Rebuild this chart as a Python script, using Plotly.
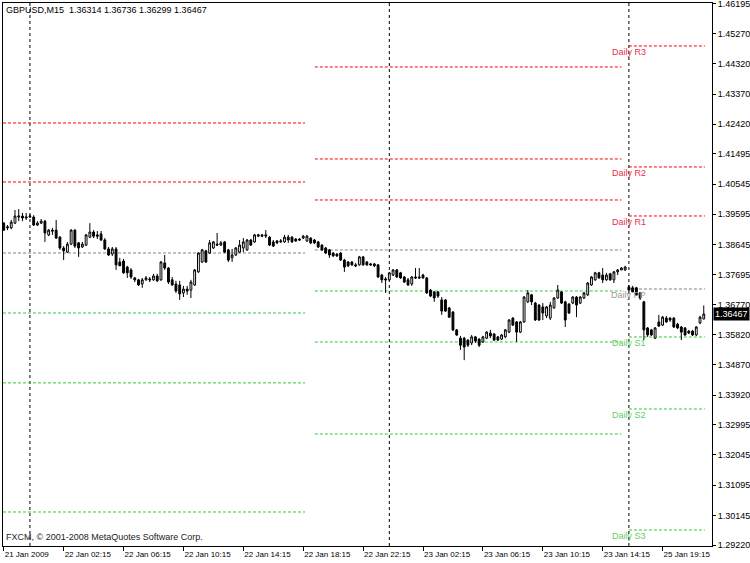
import plotly.graph_objects as go

# ---- data (GBPUSD M15) ----
open_ = [1.3932,1.3917,1.3917,1.3932,1.3951,1.3954,1.3948,1.3951,1.3951,1.3926,
1.3932,1.3938,1.3895,1.3910,1.3910,1.3888,1.3854,1.3841,1.3866,1.3910,
1.3870,1.3857,1.3863,1.3888,1.3904,1.3895,1.3898,1.3879,1.3851,1.3835,
1.3851,1.3810,1.3813,1.3794,1.3785,1.3760,1.3754,1.3741,1.3754,1.3757,
1.3754,1.3766,1.3754,1.3807,1.3791,1.3754,1.3741,1.3738,1.3713,1.3725,
1.3722,1.3738,1.3779,1.3810,1.3845,1.3838,1.3854,1.3866,1.3863,1.3873,
1.3848,1.3823,1.3832,1.3841,1.3854,1.3848,1.3879,1.3873,1.3891,1.3895,
1.3891,1.3888,1.3873,1.3876,1.3873,1.3873,1.3888,1.3888,1.3882,1.3882,
1.3885,1.3876,1.3885,1.3879,1.3873,1.3863,1.3854,1.3848,1.3838,1.3835,
1.3838,1.3816,1.3810,1.3810,1.3801,1.3801,1.3826,1.3810,1.3804,1.3804,
1.3801,1.3769,1.3757,1.3754,1.3769,1.3785,1.3776,1.3763,1.3754,1.3741,
1.3763,1.3763,1.3769,1.3760,1.3722,1.3716,1.3716,1.3691,1.3691,1.3666,
1.3653,1.3597,1.3571,1.3571,1.3565,1.3556,1.3575,1.3568,1.3559,1.3571,
1.3587,1.3584,1.3575,1.3568,1.3575,1.3590,1.3634,1.3622,1.3590,1.3622,
1.3685,1.3707,1.3681,1.3675,1.3669,1.3641,1.3634,1.3666,1.3697,1.3716,
1.3685,1.3678,1.3681,1.3700,1.3681,1.3697,1.3707,1.3738,1.3754,1.3776,
1.3769,1.3754,1.3773,1.3754,1.3779,1.3785,1.3785,1.3732,1.3729,1.3729,
1.3713,1.3685,1.3603,1.3597,1.3571,1.3622,1.3612,1.3634,1.3634,1.3634,
1.3615,1.3606,1.3603,1.3593,1.3593,1.3581,1.3619,1.36314]
high = [1.3935,1.3926,1.3942,1.3973,1.3976,1.3964,1.3964,1.3960,1.3957,1.3938,
1.3945,1.3942,1.3913,1.3917,1.3942,1.3891,1.3860,1.3873,1.3913,1.3913,
1.3873,1.3873,1.3898,1.3932,1.3910,1.3907,1.3907,1.3885,1.3857,1.3857,
1.3857,1.3823,1.3820,1.3798,1.3791,1.3763,1.3757,1.3760,1.3766,1.3763,
1.3773,1.3773,1.3813,1.3832,1.3794,1.3763,1.3751,1.3751,1.3735,1.3735,
1.3754,1.3788,1.3841,1.3851,1.3848,1.3879,1.3876,1.3901,1.3876,1.3876,
1.3851,1.3851,1.3857,1.3879,1.3885,1.3882,1.3882,1.3898,1.3898,1.3898,
1.3910,1.3891,1.3879,1.3879,1.3882,1.3895,1.3895,1.3891,1.3885,1.3885,
1.3895,1.3895,1.3888,1.3882,1.3876,1.3866,1.3857,1.3851,1.3841,1.3838,
1.3841,1.3820,1.3813,1.3813,1.3807,1.3829,1.3829,1.3813,1.3807,1.3807,
1.3804,1.3773,1.3763,1.3779,1.3788,1.3788,1.3779,1.3766,1.3760,1.3766,
1.3791,1.3791,1.3773,1.3763,1.3725,1.3719,1.3719,1.3700,1.3694,1.3669,
1.3656,1.3600,1.3578,1.3575,1.3568,1.3581,1.3578,1.3571,1.3578,1.3593,
1.3597,1.3587,1.3578,1.3584,1.3600,1.3631,1.3637,1.3625,1.3625,1.3703,
1.3722,1.3710,1.3685,1.3678,1.3681,1.3672,1.3685,1.3700,1.3738,1.3719,
1.3688,1.3681,1.3703,1.3703,1.3703,1.3716,1.3747,1.3766,1.3779,1.3779,
1.3791,1.3776,1.3776,1.3782,1.3788,1.3794,1.3798,1.3738,1.3735,1.3732,
1.3716,1.3688,1.3606,1.3600,1.3606,1.3644,1.3641,1.3641,1.3637,1.3637,
1.3619,1.3609,1.3606,1.3597,1.3597,1.3609,1.3641,1.36736]
low = [1.3907,1.3910,1.3913,1.3929,1.3938,1.3938,1.3942,1.3948,1.3923,1.3923,
1.3929,1.3873,1.3891,1.3895,1.3882,1.3848,1.3816,1.3838,1.3863,1.3854,
1.3826,1.3854,1.3860,1.3885,1.3885,1.3882,1.3876,1.3848,1.3829,1.3829,
1.3785,1.3798,1.3773,1.3760,1.3757,1.3747,1.3735,1.3729,1.3751,1.3747,
1.3751,1.3747,1.3751,1.3785,1.3741,1.3735,1.3713,1.3691,1.3700,1.3707,
1.3697,1.3735,1.3776,1.3807,1.3807,1.3835,1.3851,1.3860,1.3860,1.3838,
1.3810,1.3810,1.3829,1.3838,1.3841,1.3845,1.3860,1.3870,1.3888,1.3888,
1.3885,1.3860,1.3857,1.3866,1.3870,1.3870,1.3870,1.3870,1.3873,1.3876,
1.3882,1.3873,1.3866,1.3866,1.3854,1.3845,1.3835,1.3823,1.3826,1.3826,
1.3813,1.3779,1.3794,1.3798,1.3794,1.3798,1.3798,1.3798,1.3798,1.3794,
1.3760,1.3744,1.3713,1.3751,1.3766,1.3760,1.3757,1.3744,1.3735,1.3735,
1.3757,1.3757,1.3757,1.3710,1.3700,1.3685,1.3697,1.3644,1.3653,1.3634,
1.3593,1.3578,1.3534,1.3502,1.3543,1.3549,1.3556,1.3543,1.3556,1.3568,
1.3571,1.3562,1.3562,1.3565,1.3571,1.3587,1.3609,1.3559,1.3587,1.3619,
1.3681,1.3675,1.3625,1.3625,1.3628,1.3634,1.3628,1.3663,1.3694,1.3678,
1.3606,1.3647,1.3678,1.3637,1.3678,1.3694,1.3703,1.3735,1.3751,1.3757,
1.3744,1.3751,1.3751,1.3744,1.3769,1.3785,1.3782,1.3719,1.3716,1.3703,
1.3691,1.3565,1.3575,1.3578,1.3568,1.3606,1.3609,1.3619,1.3622,1.3603,
1.3600,1.3565,1.3578,1.3584,1.3578,1.3578,1.3615,1.36299]
close = [1.3910,1.3920,1.3935,1.3954,1.3954,1.3948,1.3951,1.3954,1.3926,1.3932,
1.3938,1.3901,1.3910,1.3907,1.3885,1.3854,1.3845,1.3866,1.3910,1.3860,
1.3854,1.3866,1.3895,1.3904,1.3891,1.3891,1.3879,1.3851,1.3832,1.3851,
1.3801,1.3798,1.3776,1.3776,1.3763,1.3754,1.3738,1.3754,1.3760,1.3754,
1.3766,1.3751,1.3810,1.3791,1.3747,1.3738,1.3719,1.3710,1.3725,1.3719,
1.3747,1.3785,1.3838,1.3848,1.3810,1.3870,1.3873,1.3863,1.3870,1.3841,
1.3816,1.3832,1.3854,1.3863,1.3873,1.3879,1.3863,1.3895,1.3895,1.3891,
1.3895,1.3863,1.3860,1.3870,1.3876,1.3888,1.3879,1.3873,1.3876,1.3879,
1.3891,1.3891,1.3870,1.3870,1.3857,1.3848,1.3838,1.3832,1.3829,1.3829,
1.3816,1.3794,1.3798,1.3801,1.3798,1.3826,1.3801,1.3801,1.3801,1.3798,
1.3763,1.3754,1.3754,1.3776,1.3785,1.3763,1.3760,1.3747,1.3738,1.3763,
1.3760,1.3760,1.3760,1.3713,1.3703,1.3697,1.3703,1.3656,1.3656,1.3637,
1.3597,1.3581,1.3549,1.3543,1.3549,1.3575,1.3562,1.3549,1.3575,1.3590,
1.3578,1.3565,1.3565,1.3581,1.3597,1.3628,1.3612,1.3590,1.3622,1.3700,
1.3713,1.3685,1.3628,1.3628,1.3650,1.3669,1.3675,1.3697,1.3722,1.3681,
1.3628,1.3650,1.3700,1.3675,1.3700,1.3713,1.3744,1.3763,1.3776,1.3760,
1.3754,1.3769,1.3754,1.3779,1.3785,1.3791,1.3794,1.3722,1.3716,1.3707,
1.3697,1.3597,1.3581,1.3581,1.3603,1.3609,1.3637,1.3622,1.3628,1.3606,
1.3603,1.3590,1.3581,1.3587,1.3581,1.3606,1.3637,1.36467]

# time-axis labels (bar index where each label sits)
time_tick_bars = [0, 16, 32, 48, 64, 80, 96, 112, 128, 144, 160, 176]
time_tick_labels = ["21 Jan 2009", "22 Jan 02:15", "22 Jan 06:15", "22 Jan 10:15",
                    "22 Jan 14:15", "22 Jan 18:15", "22 Jan 22:15", "23 Jan 02:15",
                    "23 Jan 06:15", "23 Jan 10:15", "23 Jan 14:15", "25 Jan 19:15"]
day_start_bars = [7, 103, 167]

price_ticks = [1.46195, 1.45270, 1.44320, 1.43370, 1.42420, 1.41495, 1.40545,
               1.39595, 1.38645, 1.37695, 1.36770, 1.35820, 1.34870, 1.33920,
               1.32995, 1.32045, 1.31095, 1.30145, 1.29220]

# daily pivot levels per segment
pivot_seg1 = {"R2": 1.42462, "R1": 1.40610, "PP": 1.38383,
              "S1": 1.36500, "S2": 1.34307, "S3": 1.30256}
pivot_seg2 = {"R3": 1.44219, "R2": 1.41332, "R1": 1.40046, "PP": 1.38477,
              "S1": 1.37190, "S2": 1.35590, "S3": 1.32703}
pivot_seg3 = {"R3": 1.44878, "R2": 1.41081, "R1": 1.39544, "PP": 1.37253,
              "S1": 1.35747, "S2": 1.33488, "S3": 1.29691}
seg_bounds = [(-0.2, 80.5), (83.1, 165.0), (167.0, 187.3)]

symbol_title = "GBPUSD,M15  1.36314 1.36736 1.36299 1.36467"
copyright_text = "FXCM, © 2001-2008 MetaQuotes Software Corp."
last_price = 1.36467

# ---- figure ----
FONT = "Liberation Sans"
pivot_colors = {"R3": "#ff0000", "R2": "#ff0000", "R1": "#ff0000",
                "PP": "#808080", "S1": "#33cc33", "S2": "#33cc33", "S3": "#33cc33"}
label_colors = {"R3": "#e8304a", "R2": "#e8304a", "R1": "#e8304a",
                "PP": "#999999", "S1": "#66cc66", "S2": "#66cc66", "S3": "#66cc66"}

x = list(range(len(close)))
fig = go.Figure()

fig.add_trace(go.Candlestick(
    x=x, open=open_, high=high, low=low, close=close,
    increasing=dict(line=dict(color="black", width=1), fillcolor="white"),
    decreasing=dict(line=dict(color="black", width=1), fillcolor="black"),
    whiskerwidth=0, showlegend=False, hoverinfo="skip"))

shapes = []
for seg, (x0, x1) in zip([pivot_seg1, pivot_seg2, pivot_seg3], seg_bounds):
    for name, lvl in seg.items():
        shapes.append(dict(type="line", xref="x", yref="y", x0=x0, x1=x1, y0=lvl, y1=lvl,
                           line=dict(color=pivot_colors[name], width=1, dash="3px,2px"),
                           layer="below"))
for b in day_start_bars:
    shapes.append(dict(type="line", xref="x", yref="paper", x0=b, x1=b, y0=0, y1=1,
                       line=dict(color="black", width=1, dash="3px,3px"), layer="below"))

annotations = []
for name, lvl in pivot_seg3.items():
    annotations.append(dict(x=seg_bounds[2][0], y=lvl, xref="x", yref="y", text="Daily " + name,
                            showarrow=False, xanchor="center", yanchor="top", yshift=1,
                            font=dict(family=FONT, size=9, color=label_colors[name])))
annotations.append(dict(x=0, y=1, xref="paper", yref="paper", text=symbol_title,
                        showarrow=False, xanchor="left", yanchor="top", xshift=1, yshift=0,
                        font=dict(family=FONT, size=9, color="black")))
annotations.append(dict(x=0, y=0, xref="paper", yref="paper", text=copyright_text,
                        showarrow=False, xanchor="left", yanchor="bottom", xshift=1, yshift=2,
                        font=dict(family=FONT, size=9, color="#222222")))
annotations.append(dict(x=1, y=last_price, xref="paper", yref="y", text=f"{last_price:.5f}",
                        showarrow=False, xanchor="left", yanchor="middle", xshift=1,
                        bgcolor="black", borderpad=1,
                        font=dict(family=FONT, size=9, color="white")))

fig.update_layout(
    width=750, height=563,
    margin=dict(l=3, r=38, t=3, b=17, autoexpand=False),
    paper_bgcolor="white", plot_bgcolor="white",
    shapes=shapes, annotations=annotations,
    showlegend=False,
    font=dict(family=FONT, size=9, color="black"),
)
fig.update_xaxes(
    range=[-0.2, 189.2], rangeslider=dict(visible=False), automargin=False,
    showgrid=False, zeroline=False,
    showline=True, linecolor="black", linewidth=1, mirror=True,
    tickmode="array", tickvals=time_tick_bars, ticktext=time_tick_labels,
    ticks="outside", ticklen=4, tickcolor="black", tickangle=0,
    ticklabelposition="outside right", ticklabeloverflow="allow",
    tickfont=dict(family=FONT, size=8, color="black"),
)
fig.update_yaxes(
    range=[1.29189, 1.46226], side="right", automargin=False,
    showgrid=False, zeroline=False,
    showline=True, linecolor="black", linewidth=1, mirror=True,
    tickmode="array", tickvals=price_ticks, ticktext=[f"{v:.5f}" for v in price_ticks],
    ticks="outside", ticklen=3, tickcolor="black", ticklabeloverflow="allow",
    tickfont=dict(family=FONT, size=9, color="black"),
)

fig.write_html("out.html", config={"displayModeBar": False},
               post_script="document.body.style.margin='0px';document.body.style.overflow='hidden';")
